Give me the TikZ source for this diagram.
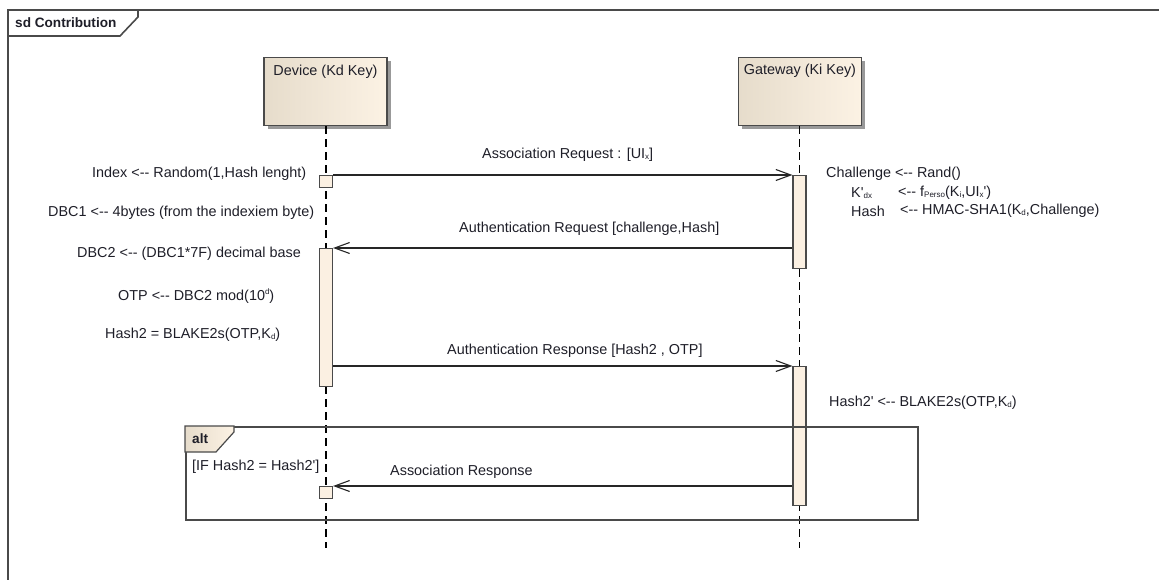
\documentclass[tikz,border=0pt]{standalone}
\usepackage{fontspec}
\setmainfont{Liberation Sans}[Ligatures=TeXOff]
\usetikzlibrary{arrows.meta,shadows}
\definecolor{boxL}{HTML}{E6DCCB}
\definecolor{boxR}{HTML}{FCF2E4}
\definecolor{barF}{HTML}{FBF0E2}
\definecolor{frm}{HTML}{4A4A4A}
\definecolor{txt}{HTML}{1E1E28}
\newcommand\sbs[1]{\raisebox{-0.15ex}{\fontsize{8}{8}\selectfont #1}}
\newcommand\sps[1]{\raisebox{0.7ex}{\fontsize{8}{8}\selectfont #1}}
\begin{document}
\begin{tikzpicture}[x=1pt,y=-1pt,
 every node/.style={font=\fontsize{14.4}{17}\selectfont, text=txt},
 lbl/.style={anchor=west, inner sep=0pt},
 head/.style={draw=frm, line width=1.3pt, left color=boxL, right color=boxR, minimum width=123pt, minimum height=68pt, anchor=north, inner sep=0pt, drop shadow={shadow xshift=3.5pt, shadow yshift=-3.5pt, fill=black!40, opacity=1}},
 bar/.style={draw=frm, line width=1.1pt, fill=barF, minimum width=13pt, anchor=north, inner sep=0pt},
 life/.style={draw=black, line width=1.1pt, dash pattern=on 8pt off 5pt},
 msg/.style={draw=black!85, line width=1.1pt, -{Straight Barb[length=15pt,width=11pt,line width=1.1pt]}},
 frame/.style={draw=frm, line width=1.6pt},
 ttl/.style={font=\bfseries\fontsize{13.6}{15}\selectfont, anchor=west, inner sep=0pt}]
\useasboundingbox (0,0) rectangle (1159,580);

% outer frame
\draw[frame] (1159,10) -- (8,10) -- (8,580);
\draw[frame] (138,10) -- (138,17) -- (120,36) -- (8,36);
\node[ttl] (sdT) at (15,23) {sd Contribution};

% lifeline heads
\node[head] (dev) at (325.5,57) {};
\node[inner sep=0pt] (devT) at (325.5,72) {Device (Kd Key)};
\node[head] (gw) at (800,57) {};
\node[inner sep=0pt] (gwT) at (800,71) {Gateway (Ki Key)};

% lifelines
\coordinate (devEnd) at (326,548);
\coordinate (gwEnd) at (799.5,548);
\draw[life] (dev.south -| devEnd) -- (devEnd);
\draw[life] (gw.south -| gwEnd) -- (gwEnd);

% activation bars
\node[bar, minimum height=12pt] (da1) at (326,175) {};
\node[bar, minimum height=138pt] (db) at (326,248) {};
\node[bar, minimum height=12pt] (da2) at (326,486) {};
\node[bar, minimum height=93pt] (ga1) at (799.5,175) {};
\node[bar, minimum height=139pt] (gb) at (799.5,366) {};

% messages
\draw[msg] (da1.north east) -- (ga1.north west);
\draw[msg] (ga1.west |- db.north) -- (db.north east);
\draw[msg] (db.east |- gb.north) -- (gb.north west);
\draw[msg] (gb.west |- da2.north) -- (da2.north east);

\node[lbl] (m1) at (482,155) {Association Request : [UI\sbs{x}]};
\node[lbl] (m2) at (459,229) {Authentication Request [challenge,Hash]};
\node[lbl] (m3) at (447,351) {Authentication Response [Hash2 , OTP]};
\node[lbl] (m4) at (390,472) {Association Response};

% alt fragment
\node[draw=frm, line width=1.5pt, anchor=north west, minimum width=732pt, minimum height=93pt, inner sep=0pt] (alt) at (185,426) {};
\draw[draw=frm, line width=1.2pt, left color=boxL, right color=boxR] (alt.north west) -- (234,426) -- (234,432) -- (216,452) -- (185,452) -- cycle;
\node[ttl] (altT) at (192,439) {alt};
\node[lbl] (guard) at (192,467) {[IF Hash2 = Hash2']};

% left notes
\node[lbl] (n1) at (92,174) {Index <-- Random(1,Hash lenght)};
\node[lbl] (n2) at (48,213) {DBC1 <-- 4bytes (from the indexiem byte)};
\node[lbl] (n3) at (77,254) {DBC2 <-- (DBC1*7F) decimal base};
\node[lbl] (n4) at (118,296) {OTP <-- DBC2 mod(10\sps{d})};
\node[lbl] (n5) at (105,335) {Hash2 = BLAKE2s(OTP,K\sbs{d})};

% right notes
\node[lbl] (r1) at (826,174) {Challenge <-- Rand()};
\node[lbl] (r2a) at (851,193) {K'\sbs{dx}};
\node[lbl] (r2b) at (898,193) {<-- f\sbs{Perso}(K\sbs{i},UI\sbs{x}')};
\node[lbl] (r3a) at (851,211) {Hash};
\node[lbl] (r3b) at (900,211) {<-- HMAC-SHA1(K\sbs{d},Challenge)};
\node[lbl] (r4) at (829,403) {Hash2' <-- BLAKE2s(OTP,K\sbs{d})};
\end{tikzpicture}
\end{document}
